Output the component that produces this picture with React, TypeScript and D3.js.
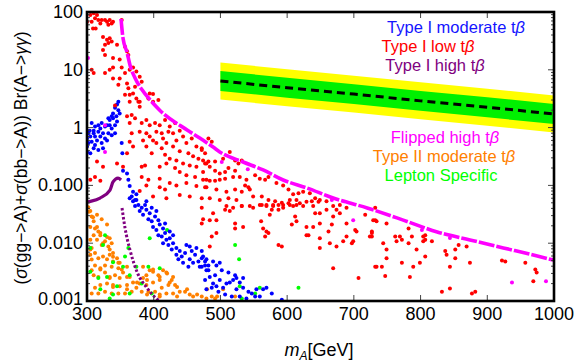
import React from "react";
import * as d3 from "d3";

const W = 576;
const H = 363;
const PLOT = { left: 87, right: 554, top: 12, bottom: 301 };

const xTicks = [300, 400, 500, 600, 700, 800, 900, 1000];
const yTicks = [100, 10, 1, 0.1, 0.01, 0.001];
const yTickLabels = ["100", "10", "1", "0.100", "0.010", "0.001"];

// Expected limit band (green/yellow) with central dashed line
const bandMass = [500, 600, 700, 800, 900, 1000];
const bandCenter = [6.4, 4.9, 3.8, 2.9, 2.25, 1.72];
const greenLow = [4.3, 3.3, 2.55, 1.95, 1.51, 1.15];
const greenHigh = [9.5, 7.3, 5.65, 4.3, 3.35, 2.56];
const yellowLow = [3.06, 2.34, 1.82, 1.39, 1.08, 0.82];
const yellowHigh = [13.4, 10.2, 7.9, 6.1, 4.7, 3.6];

// Flipped high tb curve
const flippedMass = [351, 354, 360, 364.5, 372, 382.5, 397, 409, 450, 469, 489, 499, 534, 564, 594, 630, 669, 720, 774, 825, 874, 924, 975, 999];
const flippedVal = [76, 35, 20, 12, 7.2, 4.5, 2.8, 2.0, 0.91, 0.66, 0.46, 0.38, 0.254, 0.185, 0.124, 0.09, 0.0605, 0.0407, 0.0251, 0.0156, 0.0114, 0.0083, 0.006, 0.0051];
const flippedPoints: [number, number][] = [
  [301.5, 16], [327, 1.1], [327, 0.38], [502, 0.254], [541, 0.19], [667, 0.056], [699, 0.025],
  [802, 0.017], [844, 0.0123], [937, 0.0021], [988, 0.0022],
];

// Type I high tb curve (rising part, then falling part)
const highRiseMass = [300, 301.5, 319.5, 334.5, 339, 346.5, 351];
const highRiseVal = [0.051, 0.0516, 0.0605, 0.083, 0.1146, 0.134, 0.124];
const highFallMass = [352.5, 357, 364.5, 375, 390, 405, 412];
const highFallVal = [0.0406, 0.0183, 0.0076, 0.00318, 0.00168, 0.00108, 0.00095];

// Type I low tb (red)
const lowTb: [number, number][] = [
  [300, 68], [305, 89], [310, 95], [312, 78], [307, 68], [315, 89], [317, 73], [320, 63], [313, 52], [309, 52],
  [322, 73], [327, 73], [330, 68], [334, 73], [337, 63], [332, 60], [339, 68], [352, 73], [324, 37], [330, 33],
  [334, 35], [327, 27], [332, 29], [324, 22], [327, 18], [337, 31], [345, 27], [357, 25], [360, 21], [362, 18],
  [339, 16], [349, 15], [352, 11], [339, 11], [334, 10], [327, 8.8], [307, 10], [310, 8.8], [364, 10], [369, 11],
  [374, 9.3], [357, 8.8], [339, 7.1], [349, 7.1], [379, 7.6], [382, 6.2], [360, 5.8], [347, 5.5], [362, 4.8], [372, 5.1],
  [369, 3.9], [357, 3.7], [364, 3.7], [394, 3.9], [399, 3.8], [407, 3.0], [399, 2.8], [392, 3.2], [379, 2.8], [374, 3.2],
  [364, 2.8],
  [342, 2.4], [360, 1.57], [367, 1.66], [379, 2.3], [377, 2.8], [372, 1.45], [382, 1.2], [389, 1.36], [394, 1.1], [402, 1.2],
  [409, 1.1], [417, 1.36], [424, 1.05], [432, 1.2], [439, 0.88], [404, 0.85], [412, 0.8], [422, 0.85], [429, 0.8], [389, 0.8],
  [394, 0.7], [364, 1.2], [367, 0.8], [379, 0.85], [384, 0.6], [399, 0.6], [414, 0.65], [419, 0.54], [434, 0.6], [444, 0.7],
  [449, 0.54], [457, 0.65], [464, 0.47], [472, 0.41], [477, 0.36], [389, 0.47], [404, 0.54], [412, 0.44], [429, 0.47], [439, 0.39],
  [452, 0.36], [459, 0.32], [467, 0.29], [364, 0.57], [369, 0.47], [360, 0.36], [397, 0.36], [417, 0.34], [424, 0.29], [434, 0.27],
  [444, 0.24], [454, 0.22], [464, 0.21], [477, 0.24], [482, 0.26], [354, 0.21], [382, 0.21], [387, 0.22], [409, 0.21], [419, 0.24],
  [432, 0.2], [439, 0.17], [449, 0.15], [462, 0.14], [474, 0.17], [479, 0.125], [345, 0.24], [315, 0.26], [324, 0.21], [312, 0.14],
  [305, 0.125], [320, 0.12], [382, 0.14], [392, 0.125], [409, 0.13], [424, 0.11], [434, 0.1], [449, 0.11], [464, 0.098], [477, 0.093],
  [409, 0.093], [417, 0.085], [389, 0.1], [379, 0.08], [399, 0.064], [419, 0.06], [439, 0.068], [454, 0.064], [472, 0.06],
  [472, 0.44], [474, 0.27], [479, 0.24], [484, 0.21], [482, 0.65], [487, 0.57], [492, 0.26], [492, 0.18], [499, 0.16], [507, 0.17],
  [512, 0.2], [504, 0.29], [514, 0.38], [522, 0.27], [527, 0.24], [532, 0.27], [522, 0.18], [529, 0.14], [539, 0.125], [474, 0.125],
  [484, 0.12], [492, 0.12], [499, 0.125], [507, 0.13], [519, 0.14], [537, 0.1], [544, 0.085], [552, 0.15], [559, 0.13], [567, 0.125],
  [572, 0.14], [584, 0.11], [594, 0.1], [602, 0.085], [609, 0.07], [617, 0.073], [624, 0.078], [634, 0.073], [642, 0.06], [649, 0.056],
  [659, 0.053], [669, 0.044], [679, 0.046], [689, 0.041], [479, 0.093], [494, 0.085], [509, 0.078], [522, 0.085], [532, 0.078], [542, 0.093],
  [549, 0.064], [562, 0.064], [572, 0.056], [582, 0.053], [592, 0.05], [604, 0.056], [614, 0.056], [624, 0.044], [637, 0.053], [484, 0.06],
  [499, 0.056], [512, 0.06], [524, 0.056], [532, 0.044], [544, 0.044], [559, 0.046], [569, 0.044], [579, 0.044], [594, 0.041], [604, 0.046],
  [472, 0.041], [474, 0.026], [472, 0.022], [484, 0.025], [489, 0.033], [494, 0.025], [487, 0.013], [494, 0.015], [484, 0.0088], [509, 0.044],
  [514, 0.036], [507, 0.038], [519, 0.041], [532, 0.044], [522, 0.022], [534, 0.019], [522, 0.018], [549, 0.041], [562, 0.046], [569, 0.046],
  [579, 0.046], [587, 0.046], [594, 0.046], [602, 0.049], [609, 0.044], [619, 0.049], [577, 0.038], [574, 0.031], [587, 0.038], [561, 0.024],
  [564, 0.018], [569, 0.016], [572, 0.015], [567, 0.013], [587, 0.0093], [592, 0.0088], [614, 0.046], [629, 0.052], [639, 0.044], [647, 0.052],
  [649, 0.033], [659, 0.038], [642, 0.033], [612, 0.029], [614, 0.024], [607, 0.021], [629, 0.019], [639, 0.019], [649, 0.022], [629, 0.0137],
  [632, 0.0137], [649, 0.0122], [662, 0.016], [667, 0.021], [669, 0.029], [674, 0.038], [679, 0.033], [689, 0.022], [702, 0.017], [704, 0.016],
  [689, 0.013], [684, 0.0108], [674, 0.0088], [664, 0.01], [649, 0.0083], [697, 0.01], [699, 0.0108], [717, 0.031], [729, 0.025], [732, 0.041],
  [727, 0.015], [724, 0.013], [734, 0.0039], [707, 0.0025], [669, 0.0037],
  [732, 0.025], [734, 0.024], [727, 0.016], [727, 0.013], [744, 0.01], [749, 0.0078], [749, 0.0055], [732, 0.0039], [742, 0.0039], [747, 0.0027],
  [749, 0.022], [762, 0.013], [764, 0.0108], [772, 0.0115], [769, 0.013], [782, 0.018], [787, 0.013], [782, 0.01], [794, 0.0078], [804, 0.013],
  [807, 0.0137], [807, 0.0115], [817, 0.0108], [804, 0.0108], [807, 0.0059], [799, 0.0046], [789, 0.0039], [772, 0.0046], [784, 0.0026], [837, 0.0073],
  [839, 0.0063], [852, 0.0078], [857, 0.0093], [869, 0.0088], [852, 0.0055], [844, 0.0039], [874, 0.0046], [832, 0.00145], [844, 0.00165], [877, 0.00135],
  [882, 0.00145], [922, 0.005], [927, 0.0048], [957, 0.0046], [972, 0.0035], [974, 0.0031], [969, 0.0022],
];

// Type I moderate tb (blue)
const moderateTb: [number, number][] = [
  [347, 2.8], [345, 2.5], [342, 2.2], [339, 1.75], [337, 1.57], [334, 1.36], [332, 1.45], [339, 1.45], [330, 1.1], [327, 1.05],
  [322, 1.2], [317, 1.1], [312, 1.05], [307, 1.2], [304, 0.88], [302, 0.8], [310, 0.8], [317, 0.85], [320, 0.7], [324, 0.8],
  [332, 0.8], [337, 0.74], [342, 0.8], [315, 0.6], [307, 0.57], [302, 0.54], [312, 0.5], [322, 0.54], [330, 0.6], [337, 0.96],
  [342, 1.1], [345, 1.27], [349, 1.75], [352, 0.54], [353, 0.36], [300, 0.38], [305, 0.36], [310, 0.44], [317, 0.41], [324, 0.44],
  [300, 0.65], [305, 0.7], [320, 0.96], [312, 0.7], [347, 2.0], [344, 1.57], [334, 1.1], [327, 0.65], [310, 0.88], [300, 0.47],
  [354, 0.18], [360, 0.16], [362, 0.125], [364, 0.098], [369, 0.078], [367, 0.064], [372, 0.056], [374, 0.07],
  [364, 0.06], [369, 0.053], [372, 0.044], [377, 0.046], [382, 0.041], [387, 0.046], [389, 0.038], [394, 0.033], [384, 0.031], [379, 0.036],
  [392, 0.026], [397, 0.024], [402, 0.029], [407, 0.025], [409, 0.021], [399, 0.019], [404, 0.017], [414, 0.018], [417, 0.015], [412, 0.013],
  [407, 0.0137], [419, 0.0115], [424, 0.0122], [414, 0.01], [422, 0.0093], [429, 0.01], [427, 0.0078], [434, 0.0083], [439, 0.0073], [434, 0.0063],
  [442, 0.0059], [447, 0.0068], [449, 0.0093], [454, 0.0088], [457, 0.0073], [462, 0.0063], [454, 0.0053], [459, 0.0046], [467, 0.0048], [472, 0.0055],
  [469, 0.0039], [477, 0.0041], [482, 0.0034], [479, 0.0053], [444, 0.0046], [452, 0.0039], [437, 0.0053], [464, 0.0083], [472, 0.0073], [424, 0.016],
  [417, 0.022], [389, 0.053], [397, 0.041], [404, 0.036], [374, 0.056], [429, 0.0137],
  [474, 0.0059], [477, 0.0048], [472, 0.0039], [479, 0.0034], [489, 0.0048], [494, 0.0041], [499, 0.0046], [502, 0.0034], [492, 0.0028], [484, 0.0026],
  [477, 0.0023], [489, 0.002], [494, 0.0018], [487, 0.0017], [479, 0.0016], [497, 0.00145], [504, 0.0017], [509, 0.002], [514, 0.0021], [519, 0.0023],
  [512, 0.0031], [522, 0.0028], [524, 0.0025], [529, 0.0021], [534, 0.0025], [507, 0.0013], [517, 0.0012], [524, 0.0016], [534, 0.0017], [542, 0.00145],
  [547, 0.00135], [554, 0.0016], [564, 0.0016], [569, 0.0017], [577, 0.00135], [559, 0.0012], [552, 0.0012], [539, 0.0011], [529, 0.0012], [592, 0.00105],
  [499, 0.0023], [482, 0.0041],
];

// Type II moderate tb (orange)
const typeIIModerate: [number, number][] = [
  [302, 0.042], [303, 0.035], [305, 0.036], [307, 0.029], [310, 0.024], [305, 0.019], [312, 0.018], [317, 0.016], [310, 0.0137], [320, 0.0137],
  [315, 0.0115], [322, 0.0093], [327, 0.0108], [332, 0.0088], [334, 0.0122], [337, 0.01], [305, 0.0115], [307, 0.0083], [305, 0.0063], [312, 0.0068],
  [317, 0.0055], [324, 0.0059], [330, 0.0053], [334, 0.0063], [339, 0.0068], [345, 0.0055], [339, 0.0048], [349, 0.0046], [347, 0.0037], [337, 0.0039],
  [327, 0.0041], [320, 0.0037], [312, 0.0041], [307, 0.0034], [310, 0.0028], [317, 0.0026], [327, 0.0031], [334, 0.0025], [342, 0.0028], [349, 0.0025],
  [354, 0.0031], [360, 0.0039], [364, 0.0026], [369, 0.0021], [360, 0.0019], [349, 0.0018], [339, 0.0019], [330, 0.002], [320, 0.0019], [312, 0.0017],
  [307, 0.00135], [317, 0.00135], [327, 0.00145], [337, 0.00135], [347, 0.00135], [357, 0.00135], [367, 0.00145], [374, 0.0017], [379, 0.002], [384, 0.0025],
  [389, 0.0028], [394, 0.0034], [399, 0.0032], [407, 0.0028], [414, 0.0034], [419, 0.0031], [409, 0.0023], [399, 0.0021], [389, 0.0019], [382, 0.00145],
  [392, 0.00145], [402, 0.00145], [412, 0.0017], [422, 0.0019], [427, 0.0023], [432, 0.0019], [439, 0.00145], [429, 0.00135], [419, 0.00135], [409, 0.0013],
  [447, 0.00145], [454, 0.0013], [322, 0.026], [330, 0.021], [315, 0.031],
  [309, 0.028], [315, 0.019], [320, 0.015], [330, 0.0128], [324, 0.01], [334, 0.0078], [339, 0.0058], [347, 0.0046], [352, 0.0035], [360, 0.0026],
  [375, 0.0021], [390, 0.0023], [409, 0.0026], [424, 0.0021], [435, 0.00175], [450, 0.0016], [465, 0.0013], [480, 0.0016], [495, 0.0012], [384, 0.0039],
  [399, 0.0035], [420, 0.003], [429, 0.0026], [305, 0.0078], [307, 0.0052], [320, 0.0035], [334, 0.0026], [339, 0.00175], [360, 0.0016], [390, 0.0013],
  [409, 0.0012], [435, 0.0012], [459, 0.0012], [472, 0.0012], [479, 0.0011], [487, 0.0012], [504, 0.0016], [492, 0.0011], [522, 0.0012],
];

// Lepton specific (green)
const leptonSpecific: [number, number][] = [
  [327, 0.0137], [305, 0.0083], [420, 0.017], [394, 0.0122], [362, 0.0083], [357, 0.0059], [330, 0.0026], [354, 0.0039], [374, 0.0039], [392, 0.0039],
  [409, 0.0037], [317, 0.0025], [364, 0.0028], [345, 0.0018], [382, 0.002], [320, 0.0016], [339, 0.0013], [334, 0.0011], [364, 0.00135], [397, 0.00135],
  [324, 0.0093], [339, 0.0047], [305, 0.0032], [522, 0.0093], [528, 0.0053], [529, 0.0018], [559, 0.0017], [552, 0.00135], [617, 0.0017], [532, 0.0011],
];

const legendLabels = [
  "Type I moderate t",
  "Type I low t",
  "Type I high t",
  "Flipped high t",
  "Type II moderate t",
  "Lepton Specific",
];
const legendColors = ["#1414ff", "#ff0000", "#800080", "#ff00ff", "#ff8000", "#00ff00"];
const legendBeta = [true, true, true, true, true, false];
const legendLayout = [
  { cx: 456, cy: 27 },
  { cx: 428, cy: 46 },
  { cx: 435, cy: 65 },
  { cx: 445, cy: 137 },
  { cx: 444, cy: 156 },
  { cx: 441, cy: 175 },
];

const FONT = "'Liberation Sans', Arial, Helvetica, sans-serif";

export default function App() {
  const x = d3.scaleLinear().domain([300, 1000]).range([PLOT.left, PLOT.right]);
  const y = d3.scaleLog().domain([0.001, 100]).range([PLOT.bottom, PLOT.top]);

  const area = (lo: number[], hi: number[]) =>
    d3
      .area<number>()
      .x((_, i) => x(bandMass[i]))
      .y0((_, i) => y(lo[i]))
      .y1((_, i) => y(hi[i]))(bandMass) || "";

  const lineOf = (ms: number[], vs: number[], curve: d3.CurveFactory) =>
    d3
      .line<number>()
      .x((_, i) => x(ms[i]))
      .y((_, i) => y(vs[i]))
      .curve(curve)(ms) || "";

  const minorY: number[] = [];
  [0.001, 0.01, 0.1, 1, 10].forEach((d) => {
    for (let k = 2; k <= 9; k++) minorY.push(d * k);
  });

  const dots = (pts: [number, number][], color: string, r = 2) =>
    pts.map((p, i) => <circle key={i} cx={x(p[0])} cy={y(p[1])} r={r} fill={color} />);

  return (
    <svg
      width={W}
      height={H}
      style={{ position: "absolute", left: 0, top: 0, background: "#fff" }}
      fontFamily={FONT}
    >
      <defs>
        <clipPath id="plotclip">
          <rect x={PLOT.left} y={PLOT.top} width={PLOT.right - PLOT.left} height={PLOT.bottom - PLOT.top} />
        </clipPath>
      </defs>
      <rect width={W} height={H} fill="#fff" />
      <g clipPath="url(#plotclip)">
        <path d={area(yellowLow, yellowHigh)} fill="#ffff00" />
        <path d={area(greenLow, greenHigh)} fill="#00f000" />
        <path
          d={lineOf(bandMass, bandCenter, d3.curveLinear)}
          fill="none"
          stroke="#000"
          strokeWidth={3}
          strokeDasharray="8 5"
        />
        {dots(typeIIModerate, "#ff8000")}
        {dots(leptonSpecific, "#00ff00")}
        {dots(moderateTb, "#0000ff")}
        {dots(lowTb, "#ff0000")}
        <path
          d={lineOf(highRiseMass, highRiseVal, d3.curveMonotoneX)}
          fill="none"
          stroke="#800080"
          strokeWidth={3.2}
        />
        <path
          d={lineOf(highFallMass, highFallVal, d3.curveMonotoneX)}
          fill="none"
          stroke="#800080"
          strokeWidth={3}
          strokeDasharray="2.5 2"
        />
        <path
          d={lineOf(flippedMass, flippedVal, d3.curveMonotoneX)}
          fill="none"
          stroke="#ff00ff"
          strokeWidth={3.6}
          strokeDasharray="16 2"
        />
        {dots(flippedPoints, "#ff00ff")}
      </g>

      {/* ticks */}
      <g stroke="#444" strokeWidth={1}>
        {xTicks.map((t) => (
          <g key={"xt" + t}>
            <line x1={x(t)} x2={x(t)} y1={PLOT.bottom} y2={PLOT.bottom - 6} />
            <line x1={x(t)} x2={x(t)} y1={PLOT.top} y2={PLOT.top + 6} />
          </g>
        ))}
        {yTicks.map((t) => (
          <g key={"yt" + t}>
            <line x1={PLOT.left} x2={PLOT.left + 6} y1={y(t)} y2={y(t)} />
            <line x1={PLOT.right} x2={PLOT.right - 6} y1={y(t)} y2={y(t)} />
          </g>
        ))}
        {minorY.map((t) => (
          <g key={"ym" + t}>
            <line x1={PLOT.left} x2={PLOT.left + 3} y1={y(t)} y2={y(t)} />
            <line x1={PLOT.right} x2={PLOT.right - 3} y1={y(t)} y2={y(t)} />
          </g>
        ))}
      </g>

      <rect
        x={PLOT.left}
        y={PLOT.top}
        width={PLOT.right - PLOT.left}
        height={PLOT.bottom - PLOT.top}
        fill="none"
        stroke="#000"
        strokeWidth={2.6}
      />

      {/* tick labels */}
      <g fontSize={18} fill="#000">
        {xTicks.map((t) => (
          <text key={"xl" + t} x={x(t)} y={PLOT.bottom + 19} textAnchor="middle">
            {t}
          </text>
        ))}
        {yTicks.map((t, i) => (
          <text key={"yl" + t} x={PLOT.left - 4} y={y(t) - (i === yTicks.length - 1 ? 2 : 0)} textAnchor="end" dominantBaseline="central">
            {yTickLabels[i]}
          </text>
        ))}
      </g>

      {/* axis titles */}
      <text x={319} y={356} textAnchor="middle" fontSize={18} fill="#000">
        <tspan fontStyle="italic">m</tspan>
        <tspan fontStyle="italic" fontSize={12} dy={4}>A</tspan>
        <tspan dy={-4}>[GeV]</tspan>
      </text>
      <text
        transform="translate(21,158) rotate(-90)"
        textAnchor="middle"
        dominantBaseline="central"
        fontSize={17.5}
        fill="#000"
      >
        (<tspan fontStyle="italic">σ</tspan>(gg−&gt;A)+<tspan fontStyle="italic">σ</tspan>(bb−&gt;A)) Br(A−&gt;
        <tspan fontStyle="italic">γγ</tspan>)
      </text>

      {/* legend labels */}
      <g fontSize={16.5}>
        {legendLabels.map((s, i) => (
          <text
            key={s}
            x={legendLayout[i].cx}
            y={legendLayout[i].cy}
            textAnchor="middle"
            dominantBaseline="central"
            fill={legendColors[i]}
          >
            {s}
            {legendBeta[i] ? <tspan fontStyle="italic">β</tspan> : null}
          </text>
        ))}
      </g>
    </svg>
  );
}
